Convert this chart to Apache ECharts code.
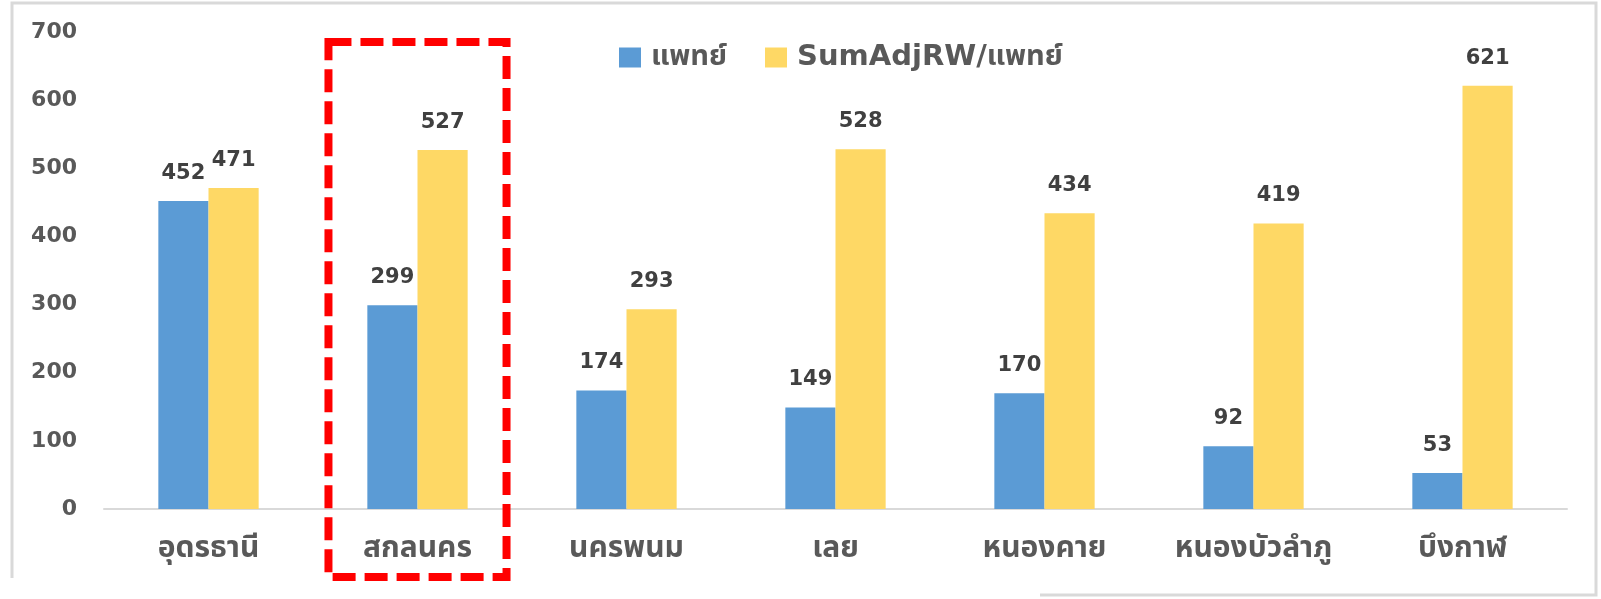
<!DOCTYPE html>
<html>
<head>
<meta charset="utf-8">
<script src="https://cdn.jsdelivr.net/npm/echarts@6/dist/echarts.min.js"></script>
<style>
html,body{margin:0;padding:0;background:#fff;}
#c{width:1601px;height:599px;}
</style>
</head>
<body>
<div id="c"></div>
<script>
const categories = ['อุดรธานี','สกลนคร','นครพนม','เลย','หนองคาย','หนองบัวลำภู','บึงกาฬ'];
const doctors = [452,299,174,149,170,92,53];
const sumAdjRWPerDoctor = [471,527,293,528,434,419,621];
const yTicks = [0,100,200,300,400,500,600,700];
const seriesNames = ['แพทย์','SumAdjRW/แพทย์'];

const thaiFont = "'DejaVu Sans','Noto Sans Thai','Loma','Garuda','Tlwg Typo',sans-serif";

const chart = echarts.init(document.getElementById('c'), null, {renderer:'canvas'});
const labelStyle = {
  show:true, position:'top', distance:17,
  fontFamily:"'DejaVu Sans',sans-serif", fontWeight:'bold', fontSize:21, color:'#404040'
};
chart.setOption({
  animation:false,
  backgroundColor:'#ffffff',
  grid:{left:104,right:34,top:32,bottom:90,containLabel:false},
  legend:{
    left:614, top:38,
    itemWidth:22, itemHeight:20, itemGap:38,
    icon:'rect',
    textStyle:{fontFamily:thaiFont,fontWeight:'bold',fontSize:29,color:'#595959',padding:[0,0,0,5]},
    data:seriesNames
  },
  xAxis:{
    type:'category', data:categories,
    axisLine:{lineStyle:{color:'#d9d9d9',width:2}},
    axisTick:{show:false},
    axisLabel:{interval:0,hideOverlap:false,margin:25,fontFamily:thaiFont,fontWeight:'bold',fontSize:30,color:'#595959'}
  },
  yAxis:{
    type:'value', min:yTicks[0], max:yTicks[yTicks.length-1], interval:yTicks[1]-yTicks[0],
    axisLine:{show:false}, axisTick:{show:false}, splitLine:{show:false},
    axisLabel:{margin:27,fontFamily:"'DejaVu Sans',sans-serif",fontWeight:'bold',fontSize:22,color:'#595959'}
  },
  series:[
    {name:seriesNames[0],type:'bar',data:doctors,barGap:'0%',barCategoryGap:'52%',
     itemStyle:{color:'#5B9BD5'},label:labelStyle},
    {name:seriesNames[1],type:'bar',data:sumAdjRWPerDoctor,barGap:'0%',barCategoryGap:'52%',
     itemStyle:{color:'#FED865'},label:labelStyle}
  ]
});

// decorations: partial frame and red dashed highlight around the 2nd category
const cx = chart.convertToPixel({xAxisIndex:0}, categories[1]);
const c0 = chart.convertToPixel({xAxisIndex:0}, categories[0]);
const band = cx - c0;
const halfW = band*0.426;
const frameColor = '#d9d9d9';
chart.setOption({
  graphic:[
    {type:'polyline',silent:true,shape:{points:[[12,578],[12,3],[1596,3],[1596,595],[1040,595]]},
     style:{stroke:frameColor,lineWidth:3,fill:null}},
    {type:'rect',silent:true,z:100,
     shape:{x:cx-halfW,y:42,width:halfW*2,height:535},
     style:{stroke:'#ff0000',lineWidth:8,fill:null,lineDash:[23,9]}}
  ]
});
</script>
</body>
</html>
